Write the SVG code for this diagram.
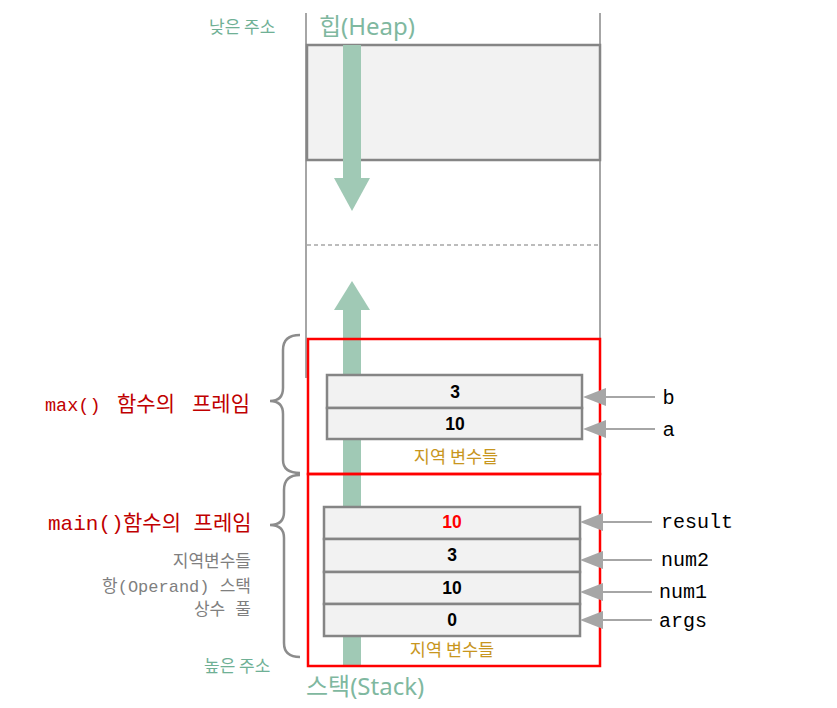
<svg xmlns="http://www.w3.org/2000/svg" width="837" height="708" viewBox="0 0 837 708">
<style>
.wall{stroke:#a6a6a6;stroke-width:2;fill:none}
.cell{fill:#f2f2f2;stroke:#858585;stroke-width:2.5}
.frame{fill:none;stroke:#ff0000;stroke-width:2.5}
.val{font-family:"Liberation Sans",Arial,sans-serif;font-weight:bold;font-size:17.5px;text-anchor:middle;fill:#000}
.lv{font-family:"Noto Sans CJK KR",sans-serif;font-size:17.5px;fill:#c8961e;text-anchor:middle}
.ptr{stroke:#a6a6a6;stroke-width:2;fill:none}
.head{fill:#a6a6a6}
.var{font-family:"Liberation Mono","DejaVu Sans Mono",monospace;font-size:20px;fill:#000}
.var2{font-family:"Liberation Sans",Arial,sans-serif;font-size:20px;fill:#000}
.flow{fill:#a0c9b5}
.brace{stroke:#8c8c8c;stroke-width:2.5;fill:none}
.fr{font-family:"Liberation Mono","Noto Sans CJK KR",monospace;font-size:21px;fill:#c00000}
.gr{font-family:"Liberation Mono","Noto Sans CJK KR",monospace;font-size:17px;fill:#7f7f7f;text-anchor:end}
.addr{font-family:"Noto Sans CJK KR",sans-serif;font-size:17px;fill:#6fb095}
.title{font-family:"Noto Sans","Noto Sans CJK KR",sans-serif;font-size:24px;fill:#7fb8a0}
</style>
<rect width="837" height="708" fill="#fff"/>
<g id="walls">
<line class="wall" x1="306" y1="13" x2="306" y2="378"/>
<line class="wall" x1="600" y1="13" x2="600" y2="340"/>
<line x1="307" y1="245" x2="600" y2="245" stroke="#a6a6a6" stroke-width="1.5" stroke-dasharray="4,3"/>
</g>
<g id="heap">
<rect class="cell" x="307" y="45" width="293" height="115"/>
</g>
<g id="heap-arrow">
<rect class="flow" x="343" y="45" width="18" height="134"/>
<polygon class="flow" points="334,178 370,178 352,211"/>
</g>
<g id="stack-arrow">
<rect class="flow" x="343" y="308" width="18" height="358"/>
<polygon class="flow" points="334,310 370,310 352,281"/>
</g>
<g id="max-frame">
<rect class="frame" x="308" y="339" width="292" height="135"/>
<rect class="cell" x="327" y="375" width="255" height="33"/>
<rect class="cell" x="327" y="408" width="255" height="31"/>
<text class="val" x="455" y="398">3</text>
<text class="val" x="455" y="430">10</text>
<text class="lv" x="456" y="463">지역 변수들</text>
</g>
<g id="main-frame">
<rect class="frame" x="308" y="474" width="292" height="192"/>
<rect class="cell" x="324" y="507" width="256" height="32"/>
<rect class="cell" x="324" y="539" width="256" height="33"/>
<rect class="cell" x="324" y="572" width="256" height="32"/>
<rect class="cell" x="324" y="604" width="256" height="32"/>
<text class="val" x="452" y="528" style="fill:#ff0000">10</text>
<text class="val" x="452" y="561">3</text>
<text class="val" x="452" y="594">10</text>
<text class="val" x="452" y="626">0</text>
<text class="lv" x="452" y="656">지역 변수들</text>
</g>
<g id="connectors">
<line class="ptr" x1="604" y1="397" x2="655" y2="397"/>
<polygon class="head" points="583,397 606,388 606,406"/>
<line class="ptr" x1="604" y1="429" x2="655" y2="429"/>
<polygon class="head" points="583,429 606,420 606,438"/>
<line class="ptr" x1="600" y1="522" x2="652" y2="522"/>
<polygon class="head" points="580,522 603,513 603,531"/>
<line class="ptr" x1="600" y1="560" x2="652" y2="560"/>
<polygon class="head" points="580,560 603,551 603,569"/>
<line class="ptr" x1="600" y1="592" x2="652" y2="592"/>
<polygon class="head" points="580,592 603,583 603,601"/>
<line class="ptr" x1="600" y1="620" x2="652" y2="620"/>
<polygon class="head" points="580,620 603,611 603,629"/>
</g>
<g id="var-labels">
<text class="var2" x="663" y="404">b</text>
<text class="var2" x="663" y="436">a</text>
<text class="var" x="661" y="528">result</text>
<text class="var" x="661" y="566">num2</text>
<text class="var" x="659" y="598">num1</text>
<text class="var" x="659" y="627">args</text>
</g>
<g id="braces">
<path class="brace" d="M300,335 Q283,335 283,350 L283,388 Q283,401 270,401 Q283,401 283,414 L283,460 Q283,473 300,473"/>
<path class="brace" d="M300,475 Q284,475 284,490 L284,512 Q284,525 270,525 Q284,525 284,538 L284,643 Q284,657 300,657"/>
</g>
<g id="left-labels">
<text class="fr" y="411"><tspan x="45" style="font-size:18.5px">max()</tspan><tspan x="117">함수의</tspan><tspan x="192">프레임</tspan></text>
<text class="fr" y="530"><tspan x="48" style="font-size:21px">main()</tspan><tspan x="123">함수의 프레임</tspan></text>
<text class="gr" x="251" y="567">지역변수들</text>
<text class="gr" x="251" y="592">항(Operand) 스택</text>
<text class="gr" x="251" y="615">상수 풀</text>
</g>
<g id="titles">
<text class="addr" x="209" y="33">낮은 주소</text>
<text class="addr" x="204" y="672">높은 주소</text>
<text class="title" x="319" y="35">힙(Heap)</text>
<text class="title" x="306" y="695">스택(Stack)</text>
</g>
</svg>
